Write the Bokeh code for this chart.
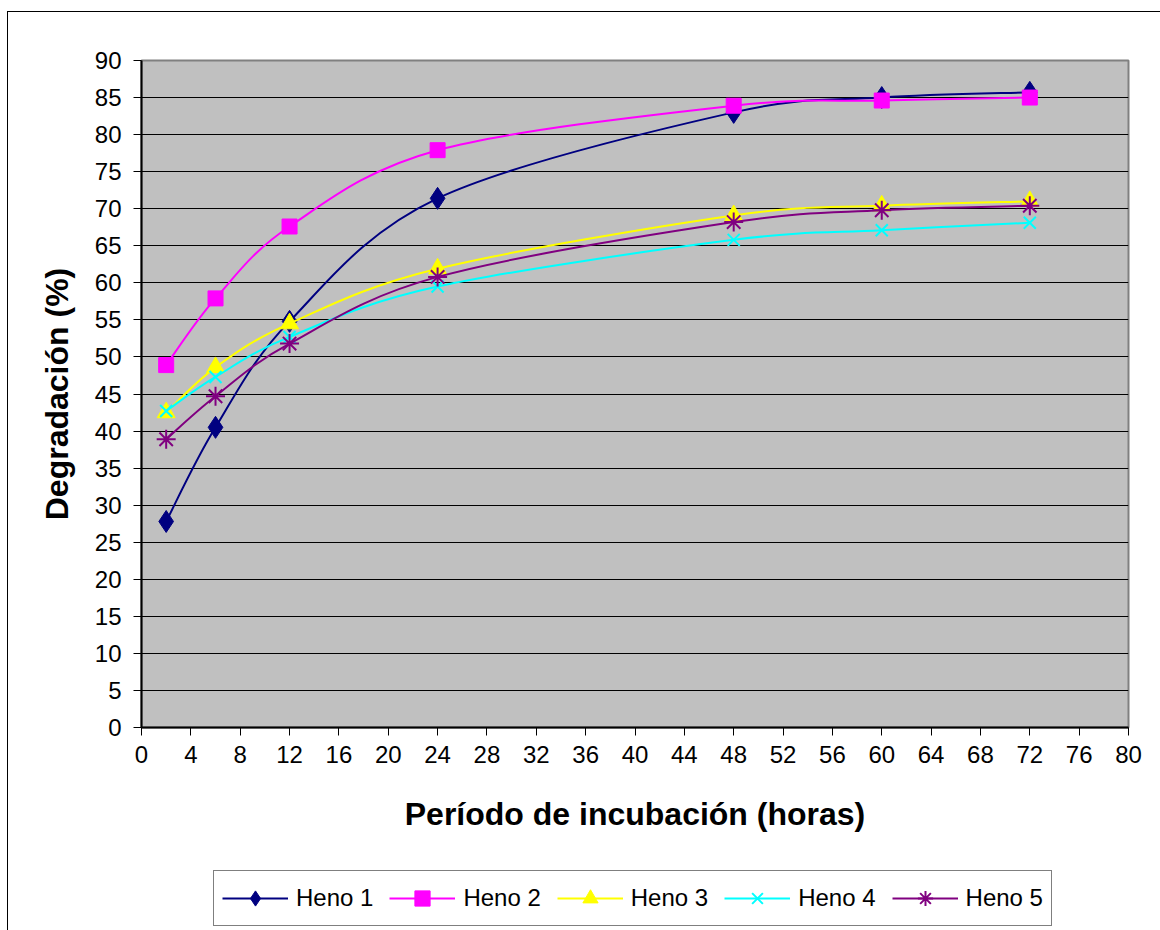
import numpy as np
from bokeh.plotting import figure
from bokeh.layouts import column
from bokeh.models import (ColumnDataSource, FixedTicker, Legend, LegendItem, Range1d)
from bokeh.embed import file_html
from bokeh.resources import INLINE

# ---- data ----
hours = [2, 6, 12, 24, 48, 60, 72]
heno1 = [27.8, 40.5, 54.8, 71.4, 83.0, 85.0, 85.7]
heno2 = [48.9, 57.9, 67.6, 77.9, 83.9, 84.6, 85.0]
heno3 = [42.5, 48.6, 54.5, 61.9, 69.1, 70.4, 71.0]
heno4 = [42.7, 47.3, 52.7, 59.5, 65.8, 67.1, 68.1]
heno5 = [38.9, 44.7, 51.8, 60.8, 68.2, 69.8, 70.4]
series_names = ["Heno 1", "Heno 2", "Heno 3", "Heno 4", "Heno 5"]
x_ticks = list(range(0, 81, 4))
y_ticks = list(range(0, 91, 5))
x_label = "Período de incubación (horas)"
y_label = "Degradación (%)"

series = [heno1, heno2, heno3, heno4, heno5]
colors = ["#000080", "#FF00FF", "#FFFF00", "#00FFFF", "#800080"]
markers = ["diamond", "square", "triangle", "x", "asterisk"]
msizes = [22, 15, 18, 17, 19]
mlw = [1, 1, 1, 2, 2]

FONT = "Liberation Sans"


def smooth_segments(xs, ys, k=1.0 / 6.0):
    """Bezier control points for an Excel-like smoothed line."""
    n = len(xs)
    d = dict(x0=[], y0=[], x1=[], y1=[], cx0=[], cy0=[], cx1=[], cy1=[])
    for i in range(n - 1):
        a = i - 1 if i > 0 else i
        b = i + 2 if i + 2 < n else i + 1
        d["x0"].append(xs[i]); d["y0"].append(ys[i])
        d["x1"].append(xs[i + 1]); d["y1"].append(ys[i + 1])
        d["cx0"].append(xs[i] + (xs[i + 1] - xs[a]) * k)
        d["cy0"].append(ys[i] + (ys[i + 1] - ys[a]) * k)
        d["cx1"].append(xs[i + 1] - (xs[b] - xs[i]) * k)
        d["cy1"].append(ys[i + 1] - (ys[b] - ys[i]) * k)
    return d


# ---------------- main chart ----------------
p = figure(width=1152, height=833, output_backend="svg", toolbar_location=None,
           x_range=Range1d(0, 80), y_range=Range1d(0, 90),
           min_border_left=133, min_border_right=32, min_border_top=48,
           min_border_bottom=118)

p.background_fill_color = "#C0C0C0"
p.border_fill_color = "white"
p.outline_line_color = "#808080"
p.outline_line_width = 2

p.xgrid.visible = False
p.ygrid.grid_line_color = "black"
p.ygrid.grid_line_width = 1
p.ygrid.ticker = FixedTicker(ticks=y_ticks)

for ax, ticks in ((p.xaxis, x_ticks), (p.yaxis, y_ticks)):
    ax.ticker = FixedTicker(ticks=ticks)
    ax.major_label_text_font = FONT
    ax.major_label_text_font_size = "24px"
    ax.major_label_text_color = "black"
    ax.axis_line_color = "black"
    ax.axis_line_width = 2
    ax.major_tick_line_color = "black"
    ax.major_tick_in = 0
    ax.major_tick_out = 8
    ax.minor_tick_line_color = None
    ax.axis_label_text_font = FONT
    ax.axis_label_text_font_style = "bold"
    ax.axis_label_text_font_size = "32px"
    ax.axis_label_text_color = "black"

p.xaxis.axis_label = x_label
p.yaxis.axis_label = y_label
p.xaxis.major_label_standoff = 10
p.yaxis.major_label_standoff = 12
p.xaxis.axis_label_standoff = 30
p.yaxis.axis_label_standoff = 17

# ---------------- legend strip (frame aligned with main chart) ----------------
lf = figure(width=1152, height=85, output_backend="svg", toolbar_location=None,
            x_range=Range1d(1000, 1001), y_range=Range1d(1000, 1001),
            x_axis_location=None, y_axis_location=None,
            min_border=0, min_border_left=133, min_border_right=32,
            min_border_top=0, min_border_bottom=0)
lf.grid.visible = False
lf.outline_line_color = None
lf.background_fill_color = "white"
lf.border_fill_color = "white"

items = []
for name, ys, c, m, s, lw in zip(series_names, series, colors, markers, msizes, mlw):
    seg = ColumnDataSource(smooth_segments(hours, ys))
    pts = ColumnDataSource(dict(x=hours, y=ys))
    bez = dict(x0="x0", y0="y0", x1="x1", y1="y1", cx0="cx0", cy0="cy0",
               cx1="cx1", cy1="cy1", source=seg, line_color=c, line_width=2)
    p.bezier(**bez)
    p.scatter(x="x", y="y", source=pts, marker=m, size=s,
              fill_color=c, line_color=c, line_width=lw)
    # same series in the legend strip (outside its range) to supply legend glyphs
    r_line = lf.bezier(**bez)
    r_pts = lf.scatter(x="x", y="y", source=pts, marker=m, size=s,
                       fill_color=c, line_color=c, line_width=lw)
    items.append(LegendItem(label=name, renderers=[r_line, r_pts]))

legend = Legend(items=items, orientation="horizontal", location=(72, 4),
                label_text_font=FONT, label_text_font_size="24px",
                label_text_color="black", glyph_width=66, glyph_height=38,
                label_standoff=8, spacing=16, padding=8, margin=0,
                border_line_color="black", border_line_width=1,
                background_fill_color="white", background_fill_alpha=1)
lf.add_layout(legend, "center")

layout = column(p, lf, spacing=0)
layout.margin = (11, 0, 0, 7)
layout.styles = {"border-left": "1px solid black", "border-top": "1px solid black"}

open("out.html", "w").write(file_html(layout, INLINE))
